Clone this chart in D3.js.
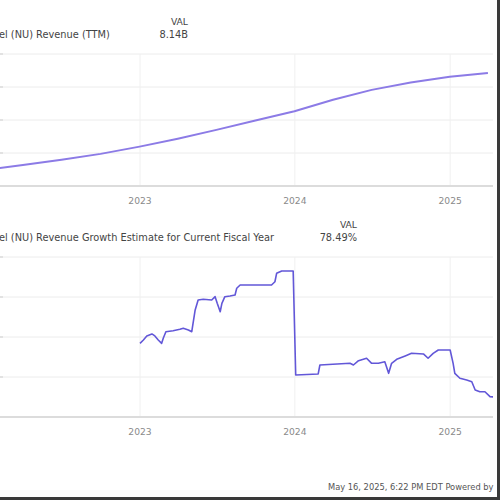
<!DOCTYPE html>
<html>
<head>
  <meta charset="UTF-8">
  <style>
    body { margin: 0; background: #fff; }
    svg { display: block; font-family: "DejaVu Sans", Verdana, sans-serif; }
  </style>
</head>
<body>
<svg></svg>
<script src="https://d3js.org/d3.v7.min.js"></script>

<script>

let width = 500, height = 500;

// Revenue (TTM), billions, quarterly
const revDates = ["2021-12-31", "2022-03-31", "2022-06-30", "2022-09-30", "2022-12-31", "2023-03-31", "2023-06-30",
    "2023-09-30", "2023-12-31", "2024-03-31", "2024-06-30", "2024-09-30", "2024-12-31", "2025-03-31"];
const revValues = [3.73, 3.95, 4.19, 4.46, 4.79, 5.15, 5.55, 5.98, 6.40, 6.92, 7.37, 7.70, 7.97, 8.14];
const revGrid = [3, 4.5, 6, 7.5, 9];

// Revenue growth estimate for current fiscal year, %
const growthDates = ["2023-01-01", "2023-01-09", "2023-01-17", "2023-01-29", "2023-02-05", "2023-02-13", "2023-02-21",
    "2023-02-25", "2023-03-03", "2023-03-20", "2023-04-05", "2023-04-13", "2023-04-25", "2023-05-03", "2023-05-11",
    "2023-05-18", "2023-05-30", "2023-06-19", "2023-06-27", "2023-07-02", "2023-07-09", "2023-07-13", "2023-07-20",
    "2023-08-01", "2023-08-13", "2023-08-17", "2023-08-25", "2023-11-07", "2023-11-15", "2023-11-19", "2023-12-01",
    "2023-12-28", "2024-01-03", "2024-02-25", "2024-02-29", "2024-05-10", "2024-05-18", "2024-05-30", "2024-06-18",
    "2024-06-30", "2024-07-16", "2024-07-31", "2024-08-09", "2024-08-16", "2024-08-28", "2024-09-17", "2024-10-02",
    "2024-10-30", "2024-11-10", "2024-11-22", "2024-12-04", "2025-01-01", "2025-01-08", "2025-01-12", "2025-01-24",
    "2025-02-09", "2025-02-21", "2025-03-01", "2025-03-12", "2025-03-24", "2025-04-05", "2025-04-21"];
const growthValues = [85.21, 85.63, 86.13, 86.38, 86.13, 85.63, 85.21,
    85.88, 86.66, 86.79, 86.96, 87.09, 86.88, 86.66, 89.38,
    90.63, 90.71, 90.63, 91.04, 90.21, 89.16, 90.21, 91.04,
    91.13, 91.25, 92.09, 92.5, 92.5, 92.91, 93.96, 94.25,
    94.25, 81.25, 81.38, 82.5, 82.71, 82.5, 83.04, 83.34,
    82.71, 82.71, 82.91, 81.46, 82.71, 83.21, 83.63, 83.96,
    83.88, 83.34, 83.96, 84.38, 84.38, 82.71, 81.46, 80.84,
    80.63, 80.41, 79.38, 79.16, 79.16, 78.54, 78.49];
const growthGrid = [76, 81, 86, 91, 96];

const yearTicks = ["2023", "2024", "2025"];
const titles = ["el (NU) Revenue (TTM)", "el (NU) Revenue Growth Estimate for Current Fiscal Year"];
const lastValues = ["8.14B", "78.49%"];
const footer = "May 16, 2025, 6:22 PM EDT Powered by";

let parse = d3.timeParse("%Y-%m-%d");

let svg = d3.select("svg")
    .attr("width", width)
    .attr("height", height)
    .attr("viewBox", "0 0 " + width + " " + height);

let plotRight = 493;

let x = d3.scaleTime()
    .domain([parse("2022-02-05"), parse("2025-04-12")])
    .range([0, plotRight]);

svg.append("clipPath").attr("id", "clip")
    .append("rect")
    .attr("x", 0).attr("y", 0)
    .attr("width", plotRight).attr("height", height);

function drawPanel(top, bottom, grid, dates, values, color, lineWidth, title, valText, titleY, valRight) {
    let g = svg.append("g");

    let y = d3.scaleLinear()
        .domain([grid[0], grid[grid.length - 1]])
        .range([bottom, top]);

    // horizontal grid
    g.selectAll("line.hgrid")
        .data(grid.slice(1))
        .enter()
        .append("line")
        .attr("class", "hgrid")
        .attr("x1", 0).attr("x2", plotRight)
        .attr("y1", d => y(d)).attr("y2", d => y(d))
        .style("stroke", "#ececec")
        .style("stroke-width", "1px");

    // little ticks on left edge
    g.selectAll("line.ltick")
        .data(grid)
        .enter()
        .append("line")
        .attr("class", "ltick")
        .attr("x1", 0).attr("x2", 3)
        .attr("y1", d => y(d)).attr("y2", d => y(d))
        .style("stroke", "#cfcfcf")
        .style("stroke-width", "1px");

    // vertical year grid
    g.selectAll("line.vgrid")
        .data(yearTicks)
        .enter()
        .append("line")
        .attr("class", "vgrid")
        .attr("x1", d => x(parse(d + "-01-01"))).attr("x2", d => x(parse(d + "-01-01")))
        .attr("y1", top).attr("y2", bottom)
        .style("stroke", "#f0f0f0")
        .style("stroke-width", "1px");

    // bottom axis line
    g.append("line")
        .attr("x1", 0).attr("x2", plotRight)
        .attr("y1", bottom).attr("y2", bottom)
        .style("stroke", "#dcdcdc")
        .style("stroke-width", "2px");

    g.selectAll("text.year")
        .data(yearTicks)
        .enter()
        .append("text")
        .attr("class", "year")
        .attr("x", d => x(parse(d + "-01-01")))
        .attr("y", bottom + 18)
        .attr("text-anchor", "middle")
        .style("font-size", "9.2px")
        .style("fill", "#8a8a8a")
        .text(d => d);

    let line = d3.line()
        .x((d, i) => x(parse(dates[i])))
        .y(d => y(d));

    g.append("path")
        .datum(values)
        .attr("clip-path", "url(#clip)")
        .attr("d", line)
        .style("fill", "none")
        .style("stroke", color)
        .style("stroke-width", lineWidth)
        .style("stroke-linejoin", "round");

    // header
    g.append("text")
        .attr("x", -1).attr("y", titleY)
        .style("font-size", "9.8px")
        .style("fill", "#444")
        .text(title);

    g.append("text")
        .attr("x", valRight).attr("y", titleY - 13)
        .attr("text-anchor", "end")
        .style("font-size", "9.2px")
        .style("fill", "#444")
        .text("VAL");

    g.append("text")
        .attr("x", valRight).attr("y", titleY)
        .attr("text-anchor", "end")
        .style("font-size", "9.8px")
        .style("fill", "#444")
        .text(valText);
}

drawPanel(54, 186, revGrid, revDates, revValues, "#8c7be6", 2, titles[0], lastValues[0], 38, 188);
drawPanel(257, 417, growthGrid, growthDates, growthValues, "#6257d8", 1.6, titles[1], lastValues[1], 241, 357);

svg.append("text")
    .attr("x", 328).attr("y", 490)
    .style("font-size", "8.3px")
    .style("fill", "#555")
    .text(footer);

// dark frame at right and bottom edge
svg.append("rect")
    .attr("x", 497).attr("y", 0)
    .attr("width", 3).attr("height", height)
    .style("fill", "#3a3a3a");
svg.append("rect")
    .attr("x", 0).attr("y", 497)
    .attr("width", width).attr("height", 3)
    .style("fill", "#3a3a3a");

</script>

</body>
</html>
